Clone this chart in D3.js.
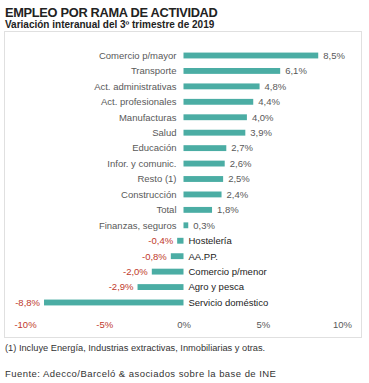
<!DOCTYPE html>
<html><head><meta charset="utf-8">
<script src="https://cdn.jsdelivr.net/npm/d3@7"></script>
<style>body{margin:0;background:#fff}svg{display:block;font-family:"Liberation Sans",Arial,sans-serif}</style>
</head><body>
<svg id="c" width="369" height="383"></svg>
<script>
const categories = ["Comercio p/mayor","Transporte","Act. administrativas","Act. profesionales","Manufacturas","Salud","Educación","Infor. y comunic.","Resto (1)","Construcción","Total","Finanzas, seguros","Hostelería","AA.PP.","Comercio p/menor","Agro y pesca","Servicio doméstico"];
const values = [8.5,6.1,4.8,4.4,4.0,3.9,2.7,2.6,2.5,2.4,1.8,0.3,-0.4,-0.8,-2.0,-2.9,-8.8];
const tickValues = [-10,-5,0,5,10];
const tickLabels = ["-10%","-5%","0%","5%","10%"];

const svg = d3.select("#c");
const fmt = v => v.toFixed(1).replace(".", ",") + "%";
const barColor = "#4BADA4", grey = "#595959", red = "#C0392B";

svg.append("text").attr("x",5).attr("y",17).attr("font-size",12.8).attr("letter-spacing",-0.3).attr("font-weight","bold").attr("fill","#222").text("EMPLEO POR RAMA DE ACTIVIDAD");
svg.append("text").attr("x",5).attr("y",28).attr("font-size",10).attr("font-weight","bold").attr("fill","#222").text("Variación interanual del 3º trimestre de 2019");

svg.append("rect").attr("x",4.5).attr("y",31.5).attr("width",357).attr("height",306).attr("fill","none").attr("stroke","#e0e0e0");

const x = d3.scaleLinear().domain([-10,10]).range([25,342]);
const y = d3.scaleBand().domain(categories).range([43,315]).padding(0.62);

const rows = svg.append("g").selectAll("g").data(categories).join("g");
rows.append("rect")
  .attr("x",(d,i)=>x(Math.min(0,values[i])))
  .attr("y",d=>y(d))
  .attr("width",(d,i)=>Math.abs(x(values[i])-x(0)))
  .attr("height",y.bandwidth())
  .attr("fill",barColor);
rows.append("text")
  .attr("x",(d,i)=>values[i]>=0 ? x(0)-7 : x(0)+5)
  .attr("y",d=>y(d)+y.bandwidth()/2)
  .attr("dy","0.35em")
  .attr("text-anchor",(d,i)=>values[i]>=0?"end":"start")
  .attr("font-size",9.5)
  .attr("fill",(d,i)=>values[i]>=0?grey:"#222")
  .text(d=>d);
rows.append("text")
  .attr("x",(d,i)=>values[i]>=0 ? x(values[i])+5 : x(values[i])-4)
  .attr("y",d=>y(d)+y.bandwidth()/2)
  .attr("dy","0.35em")
  .attr("text-anchor",(d,i)=>values[i]>=0?"start":"end")
  .attr("font-size",9.5)
  .attr("fill",(d,i)=>values[i]>=0?grey:red)
  .text((d,i)=>fmt(values[i]));

const axis = d3.axisBottom(x).tickValues(tickValues).tickSize(0).tickFormat((d,i)=>tickLabels[i]);
const ag = svg.append("g").attr("transform","translate(0,318)").call(axis);
ag.select(".domain").remove();
ag.selectAll("text").attr("font-size",9.5).attr("font-family","Liberation Sans, Arial, sans-serif")
  .attr("fill",d=>d<0?red:grey);

svg.append("text").attr("x",5).attr("y",351).attr("font-size",9.25).attr("fill","#333").text("(1) Incluye Energía, Industrias extractivas, Inmobiliarias y otras.");
svg.append("text").attr("x",5).attr("y",377).attr("font-size",9.5).attr("letter-spacing",0.45).attr("fill","#333").text("Fuente: Adecco/Barceló & asociados sobre la base de INE");
</script>
</body></html>
